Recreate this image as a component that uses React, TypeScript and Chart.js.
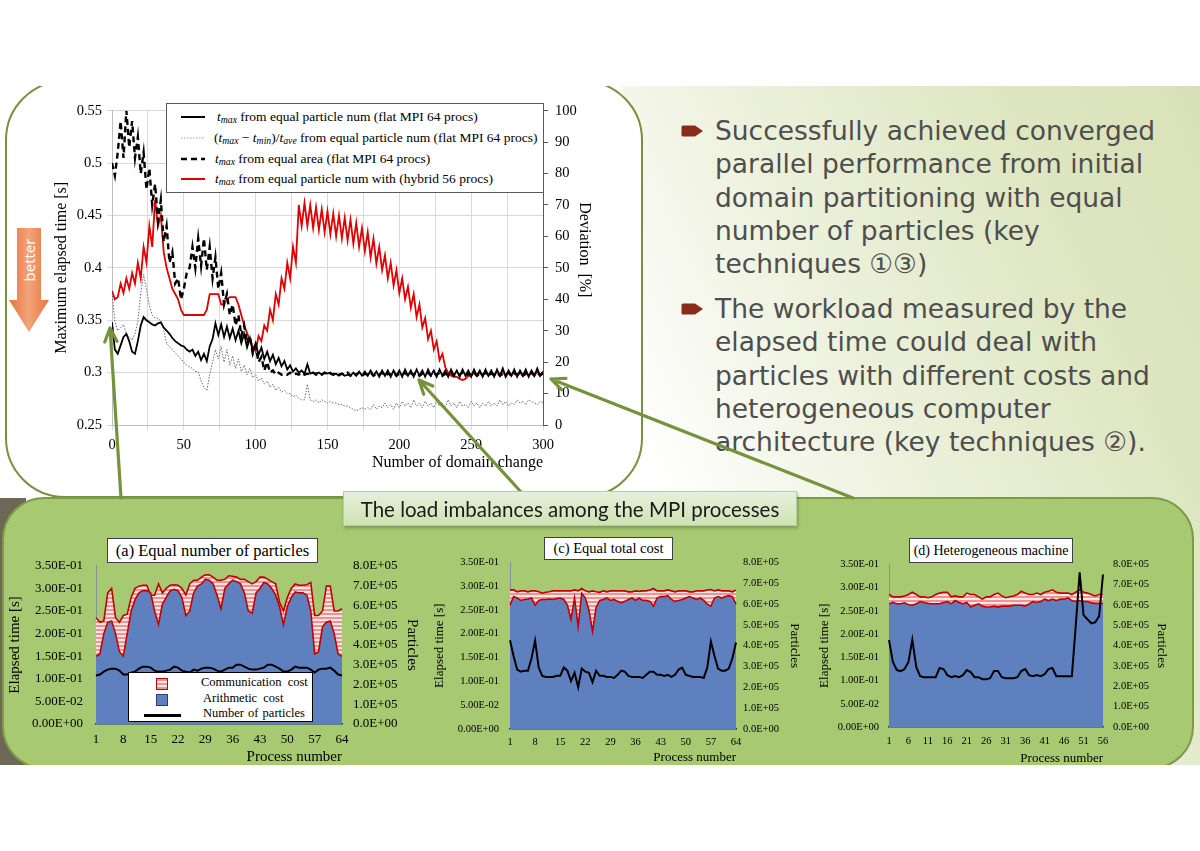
import React, { useEffect, useRef } from 'react';
import Chart from 'chart.js/auto';

// ---------------- Main chart data (x = number of domain change, step 2) ----------------
const DOMAIN_X = Array.from({ length: 151 }, (_, i) => i * 2);

const TMAX_EQUAL_PARTICLE = [
  0.348, 0.322, 0.318, 0.326, 0.334, 0.337, 0.33, 0.32, 0.318, 0.33,
  0.345, 0.353, 0.35, 0.348, 0.346, 0.345, 0.347, 0.348, 0.343, 0.34,
  0.337, 0.333, 0.33, 0.328, 0.326, 0.325, 0.322, 0.32, 0.322, 0.316,
  0.32, 0.312, 0.318, 0.311, 0.325, 0.332, 0.347, 0.336, 0.346, 0.334,
  0.344, 0.333, 0.342, 0.331, 0.34, 0.328, 0.337, 0.324, 0.333, 0.32,
  0.328, 0.317, 0.324, 0.313, 0.32, 0.311, 0.317, 0.308, 0.314, 0.306,
  0.311, 0.303, 0.307, 0.301, 0.304, 0.3, 0.302, 0.299, 0.308, 0.299,
  0.3, 0.299, 0.3, 0.298, 0.3, 0.299, 0.3, 0.298, 0.299, 0.297,
  0.299, 0.297, 0.298, 0.297, 0.3, 0.297, 0.301, 0.297, 0.301, 0.297,
  0.302, 0.297, 0.301, 0.296, 0.302, 0.297, 0.302, 0.296, 0.302, 0.297,
  0.302, 0.296, 0.303, 0.297, 0.302, 0.296, 0.303, 0.297, 0.302, 0.296,
  0.303, 0.297, 0.302, 0.296, 0.303, 0.297, 0.302, 0.296, 0.303, 0.297,
  0.302, 0.296, 0.303, 0.297, 0.302, 0.296, 0.303, 0.297, 0.302, 0.296,
  0.303, 0.297, 0.302, 0.296, 0.303, 0.297, 0.304, 0.296, 0.302, 0.297,
  0.303, 0.296, 0.302, 0.297, 0.303, 0.296, 0.302, 0.297, 0.304, 0.297,
  0.301,
];

const DEVIATION_EQUAL_PARTICLE = [
  42, 33, 30, 31, 32, 29, 28, 27, 29, 33,
  42, 48, 43, 38, 35, 34, 34, 33, 30, 26,
  25, 24, 23, 22, 21, 20, 19, 18.5, 18, 17,
  17, 14, 12, 11, 16, 20, 24, 21, 25, 20,
  24, 19, 22, 18, 21, 17, 19, 16, 18, 15,
  16, 14, 15, 13, 14, 12, 13, 11, 12, 10.5,
  11, 10, 10, 9, 9.5, 8.5, 8, 8, 13, 8,
  7.5, 8, 7, 8, 7.5, 7, 7.5, 7, 7, 6.5,
  6.5, 6, 6, 5.5, 5, 4.5, 5, 5.5, 5, 5.5,
  5, 6.5, 5, 6, 5.5, 7, 5.5, 6.5, 5, 7,
  5.5, 7.5, 6, 7, 5.5, 8, 6, 7, 5.5, 7.5,
  6, 7, 5.5, 7.5, 6, 7, 5.5, 8, 6, 7,
  5.5, 7.5, 6, 6.5, 5.5, 7.5, 6, 7, 5.5, 7,
  6, 7.5, 6, 7, 6, 8, 6.5, 7.5, 6, 7,
  6.5, 8, 7, 7.5, 6.5, 8, 7.5, 7, 6.5, 7.5,
  7,
];

const TMAX_EQUAL_AREA = [
  0.5, 0.488, 0.51, 0.54, 0.505, 0.55, 0.515, 0.54, 0.505, 0.525,
  0.49, 0.51, 0.475, 0.495, 0.46, 0.48, 0.445, 0.465, 0.425, 0.44,
  0.405, 0.415, 0.385, 0.39, 0.37, 0.38, 0.395, 0.4, 0.42, 0.4,
  0.428, 0.402, 0.428, 0.398, 0.42, 0.39, 0.41, 0.38, 0.395, 0.365,
  0.375, 0.355, 0.365, 0.345, 0.355, 0.335, 0.345, 0.328, 0.335, 0.318,
  0.325, 0.31, 0.315, 0.302, 0.31, 0.3, 0.302, 0.298, 0.3, 0.298,
  0.299, 0.298, 0.3, 0.298, 0.299, 0.298, 0.3, 0.298, 0.299, 0.298,
  0.3, 0.298, 0.299, 0.298, 0.3, 0.298, 0.299, 0.298, 0.3, 0.298,
  0.299, 0.298, 0.3, 0.297, 0.299, 0.298, 0.3, 0.297, 0.299, 0.298,
  0.3, 0.297, 0.299, 0.298, 0.3, 0.297, 0.299, 0.298, 0.3, 0.297,
  0.299, 0.298, 0.3, 0.297, 0.299, 0.298, 0.3, 0.297, 0.299, 0.298,
  0.3, 0.297, 0.299, 0.298, 0.3, 0.297, 0.299, 0.298, 0.3, 0.297,
  0.299, 0.298, 0.3, 0.297, 0.299, 0.298, 0.3, 0.297, 0.299, 0.298,
  0.3, 0.297, 0.299, 0.298, 0.3, 0.297, 0.299, 0.298, 0.3, 0.297,
  0.299, 0.298, 0.3, 0.297, 0.299, 0.298, 0.3, 0.297, 0.299, 0.298,
  0.299,
];

const TMAX_HYBRID = [
  0.378, 0.37, 0.372, 0.385, 0.376, 0.39, 0.38, 0.395, 0.385, 0.405,
  0.39, 0.42, 0.405, 0.44, 0.42, 0.465, 0.44, 0.45, 0.415, 0.4,
  0.39, 0.38, 0.375, 0.37, 0.36, 0.355, 0.355, 0.355, 0.355, 0.355,
  0.355, 0.355, 0.355, 0.36, 0.375, 0.375, 0.375, 0.375, 0.365, 0.365,
  0.37, 0.372, 0.372, 0.372, 0.365, 0.355, 0.345, 0.338, 0.33, 0.325,
  0.32, 0.335, 0.33, 0.345, 0.34, 0.36, 0.35, 0.375, 0.365, 0.39,
  0.38, 0.405, 0.39, 0.42, 0.405, 0.46, 0.44, 0.462, 0.44, 0.46,
  0.438, 0.458, 0.436, 0.456, 0.434, 0.454, 0.432, 0.452, 0.43, 0.45,
  0.428, 0.448, 0.426, 0.446, 0.423, 0.443, 0.42, 0.438, 0.416, 0.434,
  0.41, 0.428, 0.404, 0.42, 0.398, 0.412, 0.39, 0.405, 0.383, 0.398,
  0.376, 0.39, 0.37, 0.382, 0.362, 0.375, 0.353, 0.365, 0.343, 0.352,
  0.332, 0.34, 0.322, 0.33, 0.312, 0.318, 0.305, 0.3, 0.297, 0.296,
  0.296, 0.294, 0.293, 0.294, 0.297, 0.297, 0.3, 0.297, 0.3, 0.297,
  0.301, 0.297, 0.3, 0.297, 0.301, 0.297, 0.302, 0.297, 0.3, 0.297,
  0.301, 0.297, 0.3, 0.297, 0.301, 0.297, 0.3, 0.297, 0.301, 0.297,
  0.3,
];

const MAIN_LEFT_TICKS = ['0.25', '0.3', '0.35', '0.4', '0.45', '0.5', '0.55'];
const MAIN_RIGHT_TICKS = ['0', '10', '20', '30', '40', '50', '60', '70', '80', '90', '100'];
const MAIN_X_TICKS = ['0', '50', '100', '150', '200', '250', '300'];

// ---------------- Bottom panel data ----------------
const PROCS_64 = Array.from({ length: 64 }, (_, i) => String(i + 1));
const PROCS_56 = Array.from({ length: 56 }, (_, i) => String(i + 1));

const ELAPSED_TICKS = ['0.00E+00', '5.00E-02', '1.00E-01', '1.50E-01', '2.00E-01', '2.50E-01', '3.00E-01', '3.50E-01'];
const PARTICLE_TICKS = ['0.0E+00', '1.0E+05', '2.0E+05', '3.0E+05', '4.0E+05', '5.0E+05', '6.0E+05', '7.0E+05', '8.0E+05'];

// (a) Equal number of particles
const ARITH_A = [
  0.15, 0.155, 0.2, 0.225, 0.228, 0.2, 0.16, 0.15, 0.2, 0.25,
  0.275, 0.29, 0.295, 0.295, 0.29, 0.25, 0.22, 0.265, 0.28, 0.295,
  0.298, 0.295, 0.28, 0.24, 0.25, 0.29, 0.305, 0.31, 0.32, 0.318,
  0.31, 0.285, 0.255, 0.3, 0.31, 0.318, 0.315, 0.31, 0.29, 0.25,
  0.245, 0.29, 0.3, 0.313, 0.31, 0.3, 0.285, 0.26, 0.22, 0.26,
  0.28, 0.292, 0.29, 0.29, 0.285, 0.25, 0.155, 0.16, 0.215, 0.225,
  0.228, 0.2, 0.155, 0.15,
];
const TOTAL_A = [
  0.235, 0.225, 0.228, 0.29, 0.3, 0.235, 0.225, 0.24, 0.243, 0.28,
  0.3, 0.305, 0.307, 0.307, 0.285, 0.285, 0.31, 0.29, 0.3, 0.307,
  0.308, 0.307, 0.3, 0.285, 0.31, 0.318, 0.318, 0.325, 0.33, 0.33,
  0.325, 0.318, 0.318, 0.32, 0.328, 0.327, 0.325, 0.32, 0.32, 0.315,
  0.31, 0.315, 0.325, 0.325, 0.32, 0.315, 0.31, 0.27, 0.25, 0.28,
  0.3, 0.31, 0.307, 0.307, 0.308, 0.313, 0.24, 0.24, 0.25, 0.305,
  0.305, 0.25, 0.25, 0.255,
];
const PART_A = [
  2.45e5, 2.5e5, 2.65e5, 2.75e5, 2.8e5, 2.8e5, 2.7e5, 2.5e5, 2.5e5, 2.6e5,
  2.65e5, 2.8e5, 2.9e5, 2.9e5, 2.85e5, 2.7e5, 2.65e5, 2.65e5, 2.7e5, 2.75e5,
  2.9e5, 2.85e5, 2.7e5, 2.65e5, 2.6e5, 2.75e5, 2.7e5, 2.8e5, 2.85e5, 2.85e5,
  2.8e5, 2.7e5, 2.65e5, 2.75e5, 2.85e5, 2.85e5, 3.0e5, 3.0e5, 2.9e5, 2.8e5,
  2.75e5, 2.75e5, 2.8e5, 2.85e5, 3.0e5, 3.0e5, 2.9e5, 2.8e5, 2.65e5, 2.65e5,
  2.75e5, 2.9e5, 2.85e5, 2.85e5, 2.85e5, 2.75e5, 2.6e5, 2.75e5, 2.8e5, 2.8e5,
  2.85e5, 2.7e5, 2.5e5, 2.45e5,
];

// (c) Equal total cost
const ARITH_C = [
  0.26, 0.278, 0.275, 0.27, 0.272, 0.273, 0.275, 0.26, 0.27, 0.272,
  0.272, 0.273, 0.272, 0.274, 0.275, 0.272, 0.26, 0.23, 0.275, 0.215,
  0.285, 0.275, 0.25, 0.205, 0.255, 0.27, 0.272, 0.275, 0.27, 0.272,
  0.268, 0.265, 0.268, 0.272, 0.275, 0.27, 0.275, 0.27, 0.27, 0.268,
  0.258, 0.275, 0.278, 0.278, 0.28, 0.272, 0.268, 0.27, 0.272, 0.275,
  0.278, 0.275, 0.272, 0.275, 0.27, 0.262, 0.258, 0.275, 0.278, 0.275,
  0.278, 0.28, 0.278, 0.262,
];
const TOTAL_C = [
  0.292, 0.292, 0.288, 0.29, 0.29, 0.288, 0.29, 0.29, 0.288, 0.285,
  0.287, 0.288, 0.29, 0.29, 0.29, 0.29, 0.29, 0.29, 0.292, 0.29,
  0.295, 0.29, 0.288, 0.29, 0.288, 0.287, 0.29, 0.288, 0.29, 0.29,
  0.29, 0.29, 0.29, 0.288, 0.288, 0.29, 0.289, 0.29, 0.29, 0.292,
  0.295, 0.29, 0.29, 0.29, 0.292, 0.29, 0.288, 0.29, 0.29, 0.29,
  0.288, 0.288, 0.29, 0.29, 0.29, 0.292, 0.293, 0.29, 0.292, 0.29,
  0.29, 0.29, 0.288, 0.292,
];
const PART_C = [
  4.26e5, 3.5e5, 2.85e5, 2.75e5, 2.8e5, 2.8e5, 3.4e5, 4.25e5, 2.95e5, 2.55e5,
  2.5e5, 2.5e5, 2.5e5, 2.55e5, 2.55e5, 2.95e5, 2.8e5, 2.3e5, 2.7e5, 2.0e5,
  2.9e5, 2.75e5, 2.7e5, 2.25e5, 2.8e5, 2.55e5, 2.55e5, 2.5e5, 2.5e5, 2.45e5,
  2.6e5, 2.8e5, 2.75e5, 2.55e5, 2.5e5, 2.5e5, 2.5e5, 2.45e5, 2.6e5, 2.75e5,
  2.75e5, 2.6e5, 2.6e5, 2.55e5, 2.6e5, 2.5e5, 2.6e5, 2.85e5, 2.95e5, 2.6e5,
  2.55e5, 2.5e5, 2.5e5, 2.5e5, 2.45e5, 2.95e5, 4.2e5, 3.5e5, 2.9e5, 2.8e5,
  2.8e5, 2.9e5, 3.4e5, 4.15e5,
];

// (d) Heterogeneous machine
const ARITH_D = [
  0.265, 0.268, 0.265, 0.265, 0.267, 0.263, 0.262, 0.265, 0.27, 0.268,
  0.266, 0.265, 0.265, 0.265, 0.268, 0.27, 0.265, 0.272, 0.268, 0.265,
  0.268, 0.258, 0.262, 0.265, 0.26, 0.258, 0.258, 0.26, 0.258, 0.26,
  0.26, 0.26, 0.262, 0.262, 0.262, 0.26, 0.265, 0.27, 0.268, 0.27,
  0.275, 0.272, 0.275, 0.272, 0.275, 0.275, 0.278, 0.272, 0.27, 0.272,
  0.27, 0.27, 0.267, 0.266, 0.266, 0.266,
];
const TOTAL_D = [
  0.285, 0.28, 0.28, 0.28, 0.282, 0.285, 0.29, 0.285, 0.28, 0.28,
  0.278, 0.28, 0.285, 0.288, 0.29, 0.29, 0.28, 0.282, 0.28, 0.28,
  0.288, 0.285, 0.285, 0.28, 0.275, 0.28, 0.28, 0.285, 0.288, 0.282,
  0.278, 0.28, 0.282, 0.285, 0.292, 0.288, 0.285, 0.285, 0.288, 0.285,
  0.29, 0.292, 0.295, 0.29, 0.288, 0.288, 0.288, 0.285, 0.29, 0.295,
  0.29, 0.288, 0.285, 0.282, 0.285, 0.285,
];
const PART_D = [
  4.27e5, 3.2e5, 2.8e5, 2.75e5, 2.85e5, 3.2e5, 4.3e5, 2.95e5, 2.5e5, 2.45e5,
  2.45e5, 2.45e5, 2.45e5, 2.9e5, 2.85e5, 2.55e5, 2.45e5, 2.5e5, 2.45e5, 2.55e5,
  2.8e5, 2.7e5, 2.45e5, 2.45e5, 2.35e5, 2.35e5, 2.4e5, 2.75e5, 2.75e5, 2.45e5,
  2.4e5, 2.4e5, 2.4e5, 2.45e5, 2.75e5, 2.85e5, 2.55e5, 2.5e5, 2.55e5, 2.5e5,
  2.6e5, 2.85e5, 2.9e5, 2.5e5, 2.5e5, 2.5e5, 2.5e5, 2.5e5, 5.0e5, 7.6e5,
  5.5e5, 5.3e5, 5.1e5, 5.15e5, 5.45e5, 7.5e5,
];

const BULLET_1 = [
  'Successfully achieved converged',
  'parallel performance from initial',
  'domain partitioning with equal',
  'number of particles (key',
  'techniques \u2460\u2462)',
];
const BULLET_2 = [
  'The workload measured by the',
  'elapsed time could deal with',
  'particles with different costs and',
  'heterogeneous computer',
  'architecture (key techniques \u2461).',
];

// ---------------- styling ----------------
const SERIF = "'Liberation Serif', 'Times New Roman', Times, serif";
const BLUE = '#5f80bf';
const RED = '#c00000';
const GREEN_LINE = '#76923c';

function makeHatch() {
  const c = document.createElement('canvas');
  c.width = 4;
  c.height = 4;
  const g = c.getContext('2d') as CanvasRenderingContext2D;
  g.fillStyle = '#fde6e6';
  g.fillRect(0, 0, 4, 4);
  g.fillStyle = '#ee9292';
  g.fillRect(0, 0, 4, 2);
  return g.createPattern(c, 'repeat');
}

function mainConfig(): any {
  const pts = (ys: number[]) => ys.map((y, i) => ({ x: DOMAIN_X[i], y }));
  const tickFont = { family: SERIF, size: 14.5 };
  const titleFont = { family: SERIF, size: 16 };
  return {
    type: 'line',
    data: {
      datasets: [
        { label: 'tmax equal particle num (flat MPI 64)', data: pts(TMAX_EQUAL_PARTICLE), borderColor: '#000', borderWidth: 1.8, yAxisID: 'y' },
        { label: 'deviation (flat MPI 64)', data: pts(DEVIATION_EQUAL_PARTICLE), borderColor: '#6a6a6a', borderWidth: 1, borderDash: [1.5, 1.5], yAxisID: 'y1' },
        { label: 'tmax equal area (flat MPI 64)', data: pts(TMAX_EQUAL_AREA), borderColor: '#000', borderWidth: 2.4, borderDash: [6, 4], yAxisID: 'y' },
        { label: 'tmax hybrid 56', data: pts(TMAX_HYBRID), borderColor: '#e00000', borderWidth: 1.8, yAxisID: 'y' },
      ],
    },
    options: {
      responsive: false,
      animation: false,
      elements: { point: { radius: 0 }, line: { tension: 0 } },
      layout: { padding: { top: 9, left: 0, right: 0, bottom: 0 } },
      plugins: { legend: { display: false }, tooltip: { enabled: false } },
      scales: {
        x: {
          type: 'linear', min: 0, max: 300,
          ticks: {
            stepSize: 25, autoSkip: false, maxRotation: 0, color: '#000', font: tickFont, padding: 6,
            callback: (v: number) => (v % 50 === 0 ? MAIN_X_TICKS[v / 50] : ''),
          },
          grid: { color: '#d9d9d9', tickLength: 5 },
          border: { color: '#bfbfbf' },
          title: { display: true, text: 'Number of domain change', align: 'end', color: '#000', font: titleFont, padding: { top: 0, bottom: 4 } },
          afterFit: (s: any) => { s.height = 51; },
        },
        y: {
          position: 'left', min: 0.25, max: 0.55,
          ticks: { stepSize: 0.05, color: '#000', font: tickFont, padding: 5, callback: (_v: number, i: number) => MAIN_LEFT_TICKS[i] },
          grid: { color: '#d9d9d9', tickLength: 5 },
          border: { color: '#bfbfbf' },
          title: { display: true, text: 'Maximum elapsed time [s]', color: '#000', font: titleFont, padding: { top: 4, bottom: 0 } },
          afterFit: (s: any) => { s.width = 64; },
        },
        y1: {
          position: 'right', min: 0, max: 100,
          ticks: { stepSize: 10, color: '#000', font: tickFont, padding: 7, callback: (_v: number, i: number) => MAIN_RIGHT_TICKS[i] },
          grid: { drawOnChartArea: false, color: '#595959', tickLength: 5 },
          border: { color: '#595959' },
          title: { display: true, text: 'Deviation  [%]' + '\u00a0'.repeat(9), color: '#000', font: titleFont, padding: { top: 4, bottom: 0 } },
          afterFit: (s: any) => { s.width = 55; },
        },
      },
    },
  };
}

interface BottomParams {
  labels: string[];
  arith: number[];
  total: number[];
  part: number[];
  step: number;
  leftW: number;
  rightW: number;
  xH: number;
  padTop: number;
  tick: number;
  title: number;
  yPad: number;
  y1Pad: number;
  xPad: number;
}

function bottomConfig(p: BottomParams): any {
  const hatch = makeHatch();
  const tickFont = { family: SERIF, size: p.tick };
  const titleFont = { family: SERIF, size: p.title };
  return {
    type: 'line',
    data: {
      labels: p.labels,
      datasets: [
        { label: 'Arithmetic cost', data: p.arith, yAxisID: 'y', fill: 'origin', backgroundColor: BLUE, borderColor: RED, borderWidth: 1.6, order: 2 },
        { label: 'Communication cost', data: p.total, yAxisID: 'y', fill: '-1', backgroundColor: hatch, borderColor: RED, borderWidth: 1.6, order: 3 },
        { label: 'Number of particles', data: p.part, yAxisID: 'y1', fill: false, borderColor: '#000', borderWidth: 2, order: 1 },
      ],
    },
    options: {
      responsive: false,
      animation: false,
      elements: { point: { radius: 0 }, line: { tension: 0 } },
      layout: { padding: { top: p.padTop, left: 0, right: 0, bottom: 0 } },
      plugins: { legend: { display: false }, tooltip: { enabled: false } },
      scales: {
        x: {
          type: 'category', offset: false,
          grid: { display: false, drawTicks: false },
          border: { display: true, color: '#1f3560', width: 1.5 },
          ticks: {
            autoSkip: false, maxRotation: 0, minRotation: 0, padding: p.xPad, color: '#000', font: tickFont,
            callback: (_v: number, i: number) => (i % p.step === 0 ? p.labels[i] : ''),
          },
          title: { display: true, text: 'Process number', align: 'end', color: '#000', font: titleFont, padding: { top: 0, bottom: 4 } },
          afterFit: (s: any) => { s.height = p.xH; },
        },
        y: {
          position: 'left', min: 0, max: 0.35,
          ticks: { stepSize: 0.05, padding: p.yPad, color: '#000', font: tickFont, callback: (_v: number, i: number) => ELAPSED_TICKS[i] },
          grid: { display: false, drawTicks: false },
          border: { display: true, color: '#8a8f9a', width: 1 },
          title: { display: true, text: 'Elapsed time [s]', color: '#000', font: titleFont, padding: { top: 4, bottom: 0 } },
          afterFit: (s: any) => { s.width = p.leftW; },
        },
        y1: {
          position: 'right', min: 0, max: 8e5,
          ticks: { stepSize: 1e5, padding: p.y1Pad, color: '#000', font: tickFont, callback: (_v: number, i: number) => PARTICLE_TICKS[i] },
          grid: { display: false, drawTicks: false },
          border: { display: false },
          title: { display: true, text: 'Particles', color: '#000', font: titleFont, padding: { top: 4, bottom: 0 } },
          afterFit: (s: any) => { s.width = p.rightW; },
        },
      },
    },
  };
}

function ChartCanvas(props: { left: number; top: number; width: number; height: number; build: () => any }) {
  const ref = useRef<HTMLCanvasElement>(null);
  useEffect(() => {
    const chart = new Chart(ref.current as HTMLCanvasElement, props.build());
    return () => chart.destroy();
  }, []);
  return (
    <canvas
      ref={ref}
      width={props.width}
      height={props.height}
      style={{ position: 'absolute', left: props.left, top: props.top, width: props.width, height: props.height }}
    />
  );
}

function arrowPath(x1: number, y1: number, x2: number, y2: number, len = 15, ang = 0.42) {
  const a = Math.atan2(y2 - y1, x2 - x1);
  const ax = x2 - len * Math.cos(a - ang);
  const ay = y2 - len * Math.sin(a - ang);
  const bx = x2 - len * Math.cos(a + ang);
  const by = y2 - len * Math.sin(a + ang);
  return `M${x1},${y1} L${x2},${y2} M${ax},${ay} L${x2},${y2} L${bx},${by}`;
}

const T = (sub: string) => (
  <span>
    <i>t</i>
    <sub style={{ fontSize: '0.72em', fontStyle: 'italic', verticalAlign: '-0.25em' }}>{sub}</sub>
  </span>
);

function MainLegend() {
  const rowStyle: React.CSSProperties = { position: 'absolute', left: 0, height: 20, display: 'flex', alignItems: 'center', whiteSpace: 'nowrap' };
  const sample = (stroke: string, w: number, dash?: string) => (
    <svg width={26} height={8} style={{ marginLeft: 13, marginRight: 8 }}>
      <line x1={1} y1={4} x2={25} y2={4} stroke={stroke} strokeWidth={w} strokeDasharray={dash} />
    </svg>
  );
  return (
    <div
      style={{
        position: 'absolute', left: 166, top: 103, width: 376, height: 88, background: '#fff',
        border: '1px solid #595959', fontFamily: SERIF, fontSize: 13.5, color: '#000',
      }}
    >
      <div style={{ ...rowStyle, top: 3 }}>
        {sample('#000', 2)}
        <span style={{ marginLeft: 3 }}>{T('max')} from equal particle num (flat MPI 64 procs)</span>
      </div>
      <div style={{ ...rowStyle, top: 24 }}>
        {sample('#9a9a9a', 1, '1.5 1.5')}
        <span>({T('max')} − {T('min')})/{T('ave')} from equal particle num (flat MPI 64 procs)</span>
      </div>
      <div style={{ ...rowStyle, top: 45 }}>
        {sample('#000', 2.5, '6 4')}
        <span style={{ marginLeft: 1 }}>{T('max')} from equal area (flat MPI 64 procs)</span>
      </div>
      <div style={{ ...rowStyle, top: 65 }}>
        {sample('#e00000', 2)}
        <span style={{ marginLeft: 1 }}>{T('max')} from equal particle num with (hybrid 56 procs)</span>
      </div>
    </div>
  );
}

function TitleBox(props: { left: number; top: number; width: number; height: number; size: number; text: string }) {
  return (
    <div
      style={{
        position: 'absolute', left: props.left, top: props.top, width: props.width, height: props.height,
        background: '#fff', border: '1px solid #404040', boxSizing: 'border-box', fontFamily: SERIF,
        fontSize: props.size, color: '#000', display: 'flex', alignItems: 'center', justifyContent: 'center', whiteSpace: 'nowrap',
      }}
    >
      {props.text}
    </div>
  );
}

function LegendA() {
  const txt: React.CSSProperties = { position: 'absolute', left: 72, whiteSpace: 'nowrap', wordSpacing: 3 };
  return (
    <div
      style={{
        position: 'absolute', left: 128, top: 672, width: 185, height: 50, background: '#fff',
        border: '1px solid #000', boxSizing: 'border-box', fontFamily: SERIF, fontSize: 12.5, color: '#000',
      }}
    >
      <div style={{ position: 'absolute', left: 27, top: 5, width: 12, height: 12, border: `1.5px solid ${RED}`, boxSizing: 'border-box', background: 'repeating-linear-gradient(to bottom, #ee9292 0px, #ee9292 2px, #fde6e6 2px, #fde6e6 4px)' }} />
      <div style={{ ...txt, top: 2 }}>Communication cost</div>
      <div style={{ position: 'absolute', left: 27, top: 21, width: 12, height: 12, border: '1px solid #2a3f6f', boxSizing: 'border-box', background: BLUE }} />
      <div style={{ ...txt, top: 18, left: 74 }}>Arithmetic cost</div>
      <div style={{ position: 'absolute', left: 15, top: 41, width: 37, height: 2.5, background: '#000' }} />
      <div style={{ ...txt, top: 33, left: 74, wordSpacing: 1 }}>Number of particles</div>
    </div>
  );
}

function BulletMarker(props: { top: number }) {
  return (
    <svg width={24} height={12} style={{ position: 'absolute', left: 681, top: props.top }}>
      <path d="M2,0.5 H14 L22,6 L14,11.5 H2 Q0.5,11.5 0.5,10 V2 Q0.5,0.5 2,0.5 Z" fill="#8b2c1a" />
    </svg>
  );
}

function BulletText(props: { top: number; lines: string[] }) {
  return (
    <div
      style={{
        position: 'absolute', left: 715, top: props.top, fontFamily: "'DejaVu Sans', 'Noto Sans', sans-serif",
        fontSize: 26.5, lineHeight: '33.3px', color: '#4e4e4e', whiteSpace: 'nowrap',
      }}
    >
      {props.lines.map((l, i) => (
        <div key={i}>{l}</div>
      ))}
    </div>
  );
}

export default function App() {
  return (
    <div style={{ position: 'absolute', left: 0, top: 0, width: 1200, height: 851, background: '#fff', overflow: 'hidden' }}>
      <div style={{ position: 'absolute', left: 0, top: 86, width: 1200, height: 679, overflow: 'hidden' }}>
        <div style={{ position: 'absolute', left: 0, top: -86, width: 1200, height: 851 }}>
          {/* right gradient background */}
          <div
            style={{
              position: 'absolute', left: 622, top: 86, width: 578, height: 679,
              background: 'linear-gradient(65deg, #ffffff 18%, #eef2de 45%, #dfe7c3 75%, #d8e1b6 100%)',
            }}
          />
          {/* dark strip behind panel corner */}
          <div style={{ position: 'absolute', left: 0, top: 498, width: 26, height: 268, background: '#6d6855' }} />

          {/* main white rounded box */}
          <div
            style={{
              position: 'absolute', left: 5, top: 80, width: 638, height: 418, background: '#fff',
              border: `2.5px solid ${GREEN_LINE}`, borderRadius: 60, boxSizing: 'border-box',
            }}
          />

          {/* better arrow */}
          <svg width={60} height={120} style={{ position: 'absolute', left: 0, top: 222 }}>
            <defs>
              <linearGradient id="bg1" x1="0" y1="0" x2="1" y2="0">
                <stop offset="0" stopColor="#e8743f" />
                <stop offset="0.5" stopColor="#f2a47a" />
                <stop offset="1" stopColor="#e8743f" />
              </linearGradient>
            </defs>
            <path d="M17,6 H41 V78 H49 L29,110 L9,78 H17 Z" fill="url(#bg1)" />
            <text
              x={0} y={0} fill="#fff" fontFamily="'Open Sans', sans-serif" fontSize={15}
              textAnchor="middle" dominantBaseline="central" transform="translate(29,38) rotate(-90)"
            >
              better
            </text>
          </svg>

          {/* main chart */}
          <ChartCanvas left={48} top={95} width={550} height={381} build={mainConfig} />
          <MainLegend />

          {/* green panel */}
          <div
            style={{
              position: 'absolute', left: 2, top: 497, width: 1192, height: 272, background: '#a6c971',
              border: '2.5px solid #7d9a48', borderRadius: 42, boxSizing: 'border-box',
            }}
          />

          {/* bottom charts */}
          <ChartCanvas
            left={2} top={545} width={423} height={225}
            build={() => bottomConfig({ labels: PROCS_64, arith: ARITH_A, total: TOTAL_A, part: PART_A, step: 7, leftW: 94, rightW: 83, xH: 46, padTop: 14, tick: 13, title: 15, yPad: 13, y1Pad: 11, xPad: 8 })}
          />
          <TitleBox left={107} top={538} width={211} height={25} size={16.5} text="(a) Equal number of particles" />
          <LegendA />

          <ChartCanvas
            left={428} top={545} width={378} height={224}
            build={() => bottomConfig({ labels: PROCS_64, arith: ARITH_C, total: TOTAL_C, part: PART_C, step: 7, leftW: 82, rightW: 70, xH: 40, padTop: 13, tick: 10.5, title: 13, yPad: 11, y1Pad: 7, xPad: 7 })}
          />
          <TitleBox left={544} top={537} width={129} height={23} size={14.5} text="(c) Equal total cost" />

          <ChartCanvas
            left={813} top={548} width={360} height={222}
            build={() => bottomConfig({ labels: PROCS_56, arith: ARITH_D, total: TOTAL_D, part: PART_D, step: 5, leftW: 76, rightW: 70, xH: 43, padTop: 14, tick: 10.5, title: 13, yPad: 10, y1Pad: 10, xPad: 8 })}
          />
          <TitleBox left={909} top={538} width={164} height={25} size={14} text="(d) Heterogeneous machine" />

          {/* bullets */}
          <BulletMarker top={125} />
          <BulletText top={114} lines={BULLET_1} />
          <BulletMarker top={303} />
          <BulletText top={292} lines={BULLET_2} />

          {/* arrows */}
          <svg width={1200} height={851} style={{ position: 'absolute', left: 0, top: 0, pointerEvents: 'none' }}>
            <g stroke={GREEN_LINE} strokeWidth={3.2} fill="none" strokeLinecap="round" strokeLinejoin="round">
              <path d={arrowPath(121, 498, 110, 328)} />
              <path d={arrowPath(521, 492, 419, 380)} />
              <path d={arrowPath(853, 498, 551, 379)} />
            </g>
          </svg>

          {/* label box */}
          <div
            style={{
              position: 'absolute', left: 343, top: 491, width: 454, height: 35,
              background: 'linear-gradient(to bottom, #e6f0da, #cfe2b4)', border: '1px solid #b9cf98',
              boxSizing: 'border-box', boxShadow: '1px 2px 3px rgba(0,0,0,0.25)', fontFamily: "Lato, 'Open Sans', sans-serif",
              fontSize: 20.5, color: '#1a1a1a', display: 'flex', alignItems: 'center', justifyContent: 'center', whiteSpace: 'nowrap',
            }}
          >
            The load imbalances among the MPI processes
          </div>
        </div>
      </div>
    </div>
  );
}
